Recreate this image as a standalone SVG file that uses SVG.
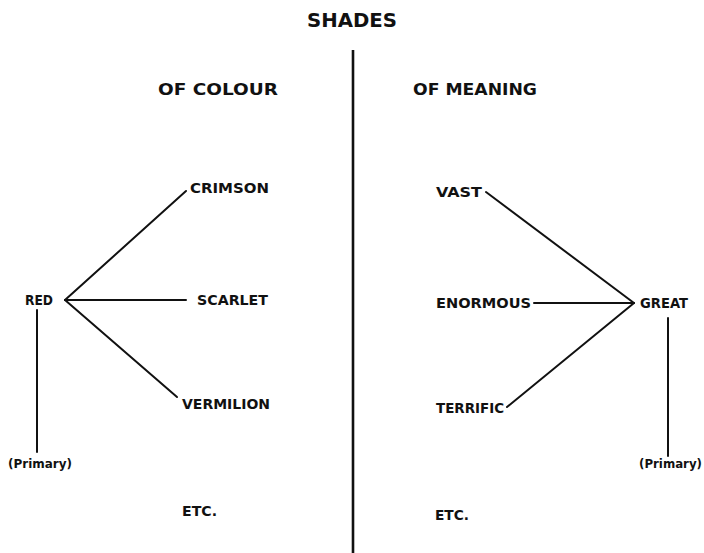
<svg xmlns="http://www.w3.org/2000/svg" width="704" height="553" viewBox="0 0 704 553">
  <style>
    text { font-family: "DejaVu Sans", "Liberation Sans", sans-serif; font-weight: bold; fill: #111; }
    .t { font-size: 20px; }
    .h { font-size: 16px; }
    .n { font-size: 13.5px; }
    .s { font-size: 11.5px; }
    .ln { stroke: #111; stroke-width: 2; fill: none; stroke-linecap: round; }
    .div { stroke: #111; stroke-width: 2.6; fill: none; }
  </style>
  <rect width="704" height="553" fill="#fff"/>
  <g id="title"><text class="t" x="307" y="27" textLength="90" lengthAdjust="spacingAndGlyphs">SHADES</text></g>
  <g id="colour-heading"><text class="h" x="158" y="95" textLength="120" lengthAdjust="spacingAndGlyphs">OF COLOUR</text></g>
  <g id="meaning-heading"><text class="h" x="413" y="95" textLength="124" lengthAdjust="spacingAndGlyphs">OF MEANING</text></g>

  <g id="connectors">
    <line class="div" x1="353" y1="50" x2="353" y2="553"/>
    <line class="ln" x1="65" y1="300" x2="186" y2="191"/>
    <line class="ln" x1="65" y1="300" x2="186" y2="300"/>
    <line class="ln" x1="65" y1="300" x2="177" y2="397"/>
    <line class="ln" x1="37" y1="310" x2="37" y2="452"/>
    <line class="ln" x1="486" y1="192" x2="634" y2="303"/>
    <line class="ln" x1="534" y1="303" x2="634" y2="303"/>
    <line class="ln" x1="507" y1="407" x2="634" y2="303"/>
    <line class="ln" x1="668" y1="318" x2="668" y2="456"/>
  </g>

  <g id="red"><text class="n" x="25" y="305" textLength="28" lengthAdjust="spacingAndGlyphs">RED</text></g>
  <g id="crimson"><text class="n" x="190" y="193" textLength="79" lengthAdjust="spacingAndGlyphs">CRIMSON</text></g>
  <g id="scarlet"><text class="n" x="197" y="305" textLength="71" lengthAdjust="spacingAndGlyphs">SCARLET</text></g>
  <g id="vermilion"><text class="n" x="182" y="409" textLength="88" lengthAdjust="spacingAndGlyphs">VERMILION</text></g>
  <g id="primary-left"><text class="s" x="8" y="468" textLength="64" lengthAdjust="spacingAndGlyphs">(Primary)</text></g>
  <g id="etc-left"><text class="n" x="182" y="516" textLength="35" lengthAdjust="spacingAndGlyphs">ETC.</text></g>

  <g id="vast"><text class="n" x="436" y="197" textLength="46" lengthAdjust="spacingAndGlyphs">VAST</text></g>
  <g id="enormous"><text class="n" x="436" y="308" textLength="95" lengthAdjust="spacingAndGlyphs">ENORMOUS</text></g>
  <g id="great"><text class="n" x="640" y="308" textLength="48" lengthAdjust="spacingAndGlyphs">GREAT</text></g>
  <g id="terrific"><text class="n" x="436" y="413" textLength="68" lengthAdjust="spacingAndGlyphs">TERRIFIC</text></g>
  <g id="primary-right"><text class="s" x="639" y="468" textLength="63" lengthAdjust="spacingAndGlyphs">(Primary)</text></g>
  <g id="etc-right"><text class="n" x="435" y="520" textLength="34" lengthAdjust="spacingAndGlyphs">ETC.</text></g>
</svg>
